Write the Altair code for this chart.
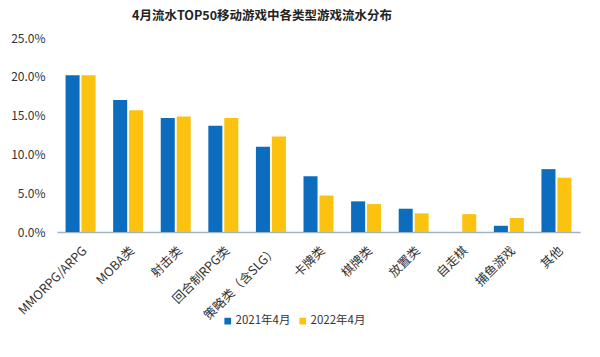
import altair as alt
import pandas as pd

categories = ["MMORPG/ARPG", "MOBA类", "射击类", "回合制RPG类", "策略类（含SLG）",
              "卡牌类", "棋牌类", "放置类", "自走棋", "捕鱼游戏", "其他"]
series = ["2021年4月", "2022年4月"]
v2021 = [20.2, 17.0, 14.7, 13.7, 11.0, 7.2, 3.95, 3.0, 0.0, 0.8, 8.1]
v2022 = [20.2, 15.7, 14.9, 14.7, 12.3, 4.7, 3.6, 2.4, 2.3, 1.8, 7.0]
y_ticks = [0, 5, 10, 15, 20, 25]
colors = ["#0C6DBF", "#FBC20F"]

rows = []
for i, c in enumerate(categories):
    rows.append({"cat": c, "series": series[0], "value": v2021[i]})
    rows.append({"cat": c, "series": series[1], "value": v2022[i]})
df = pd.DataFrame(rows)

FONT = "Noto Sans CJK SC"

chart = alt.Chart(df).mark_bar().encode(
    x=alt.X("cat:N", sort=categories, title=None,
            scale=alt.Scale(paddingInner=0.37, paddingOuter=0.18),
            axis=alt.Axis(labelAngle=-45, ticks=False, domainColor="#9FB4C7",
                          domainWidth=1.5, labelFontSize=12.5, labelColor="#333333",
                          labelFont=FONT, labelPadding=12)),
    xOffset=alt.XOffset("series:N", sort=series, scale=alt.Scale(paddingInner=0.12)),
    y=alt.Y("value:Q", title=None,
            scale=alt.Scale(domain=[0, 25], nice=False),
            axis=alt.Axis(values=y_ticks, grid=False, domain=False, ticks=False,
                          labelExpr="format(datum.value, '.1f') + '%'",
                          labelFontSize=12, labelColor="#333333", labelFont=FONT,
                          labelPadding=12)),
    color=alt.Color("series:N", sort=series,
                    scale=alt.Scale(domain=series, range=colors),
                    legend=alt.Legend(title=None, orient="none", direction="horizontal",
                                      legendX=165, legendY=277,
                                      symbolType="square", symbolSize=45,
                                      symbolStrokeWidth=0,
                                      labelFontSize=11.5, labelColor="#333333",
                                      labelFont=FONT, labelOffset=2,
                                      columnPadding=6)),
).properties(
    width=523,
    height=194,
    padding={"left": 57, "top": 38, "right": 20, "bottom": 125},
    autosize=alt.AutoSizeParams(type="none"),
    title=alt.TitleParams("4月流水TOP50移动游戏中各类型游戏流水分布",
                          anchor="start", frame="group", dx=75, offset=10,
                          fontSize=12.5, fontWeight="bold", color="#222222",
                          font=FONT),
).configure_view(stroke="transparent", strokeWidth=0)

chart.save("out.html", embed_options={"renderer": "svg", "actions": False})
